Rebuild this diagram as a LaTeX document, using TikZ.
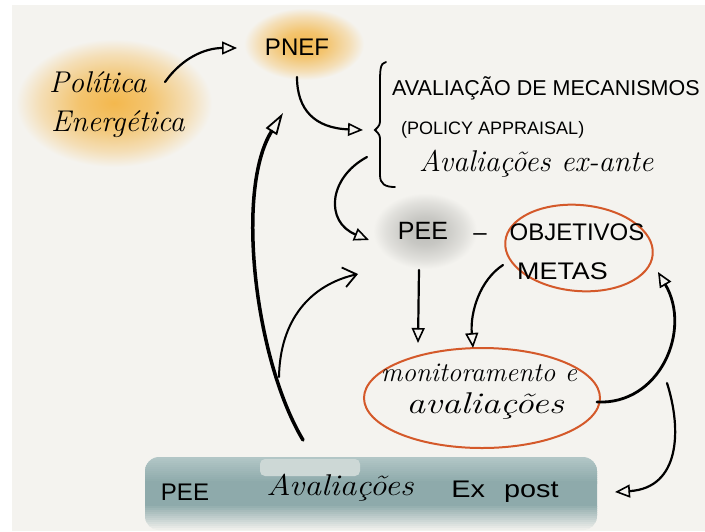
\documentclass[tikz,border=0pt]{standalone}
\usepackage{fontspec}
\setsansfont{Liberation Sans}
\usetikzlibrary{arrows.meta,shapes.geometric}
\definecolor{bgc}{HTML}{F4F3EF}
\definecolor{blobO}{HTML}{F3B84E}
\definecolor{blobG}{HTML}{BCBCB8}
\definecolor{tealD}{HTML}{8EAAAB}
\definecolor{tealL}{HTML}{B2C6C6}
\definecolor{ringO}{HTML}{D4592A}
\colorlet{blobOa}{blobO!80!bgc}
\colorlet{blobOb}{blobO!35!bgc}
\colorlet{blobGa}{blobG!80!bgc}
\colorlet{blobGb}{blobG!35!bgc}
\pgfdeclareradialshading{shO}{\pgfpointorigin}{color(0bp)=(blobO);color(9bp)=(blobOa);color(19bp)=(blobOb);color(25bp)=(bgc);color(50bp)=(bgc)}
\pgfdeclareradialshading{shG}{\pgfpointorigin}{color(0bp)=(blobG);color(9bp)=(blobGa);color(19bp)=(blobGb);color(25bp)=(bgc);color(50bp)=(bgc)}
\tikzset{
  hand/.style={font=\itshape\fontsize{30}{40}\selectfont, inner sep=1pt},
  caps/.style={font=\sffamily\fontsize{18}{22}\selectfont, inner sep=1pt},
  ring/.style={draw=ringO, line width=2pt, ellipse, inner sep=0pt},
  arr/.style={line width=2.2pt, line cap=round, -{Triangle[open,length=15pt,width=13pt,line width=1.6pt]}},
  thickarr/.style={line width=3.5pt, line cap=round, -{Triangle[open,length=22pt,width=13pt,line width=1.8pt]}},
  veearr/.style={line width=2pt, line cap=round, -{Straight Barb[length=13pt,width=20pt,line width=1.8pt]}},
}
\begin{document}
\begin{tikzpicture}[x=1pt,y=-1pt]
\useasboundingbox (0,0) rectangle (705,531);
\fill[white] (0,0) rectangle (705,531);
\fill[bgc] (12,5) rectangle (705,531);
% blobs
\shade[shading=shO] (114,103) ellipse (98 and 64);
\shade[shading=shO] (304,44) ellipse (60 and 36);
\shade[shading=shG] (425,231) ellipse (52 and 38);
\begin{scope}
  \clip[rounded corners=14] (145,457) rectangle (597,530);
  \foreach \i in {0,...,12}{
    \pgfmathtruncatemacro\p{\i*100/12}
    \fill[tealD!\p!tealL] (140,457+2*\i) rectangle (600,459.6+2*\i);
  }
  \fill[tealD] (140,482) rectangle (600,506.5);
  \foreach \i in {0,...,11}{
    \pgfmathtruncatemacro\p{100-(\i+1)*100/13}
    \fill[tealD!\p!bgc] (140,506+2*\i) rectangle (600,508.6+2*\i);
  }
\end{scope}
\fill[tealL!60!bgc, rounded corners=5] (260,459) rectangle (360,476);
\node[minimum width=452, minimum height=70, inner sep=0pt] (expost) at (371,492) {};
% text nodes
\node[hand, anchor=west] (pol) at (48,82) {Política};
\node[hand, anchor=west] (ener) at (50,124) {Energética};
\node[caps, font=\sffamily\fontsize{24}{26}\selectfont] (pnef) at (297,47) {PNEF};
\node[caps, font=\sffamily\fontsize{21.5}{24}\selectfont, anchor=west] (aval1) at (391,88) {AVALIAÇÃO DE MECANISMOS};
\node[caps, anchor=west] (aval2) at (400,130) {(POLICY APPRAISAL)};
\node[hand, anchor=west] (aval3) at (418,164) {Avaliações ex-ante};
\node[caps, font=\sffamily\fontsize{25}{27}\selectfont] (pee) at (423,231) {PEE};
\node[caps, font=\sffamily\fontsize{24}{26}\selectfont] (dash) at (480,237) {–};
\node[ring, minimum width=148, minimum height=86, rotate=-5] (obj) at (579,248) {};
\node[caps, font=\sffamily\fontsize{24}{26}\selectfont] (objt) at (577,232) {OBJETIVOS};
\node[caps, font=\sffamily\fontsize{24}{26}\selectfont, anchor=west] (metas) at (516,271) {\scalebox{1.12}[1]{METAS}};
\node[ring, minimum width=236, minimum height=100] (mon) at (482,398) {};
\node[hand, font=\itshape\fontsize{27}{34}\selectfont] (mont) at (479,373) {monitoramento e};
\node[hand] (avt) at (485,406) {\scalebox{1.25}[1]{avaliações}};
\node[caps, font=\sffamily\fontsize{24}{26}\selectfont] (ex1) at (185,492) {PEE};
\node[hand] (ex2) at (340,488) {\scalebox{1.12}[1]{Avaliações}};
\node[caps, font=\sffamily\fontsize{24}{26}\selectfont] (ex3) at (505,492) {\scalebox{1.2}[1]{Ex\hspace{16pt}post}};
% bracket
\draw[line width=1.8pt, line cap=round] (386,62) .. controls (380,63) and (380,70) .. (380,85) -- (380,118) .. controls (380,125) .. (375,130) .. controls (380,135) .. (380,142) -- (380,175) .. controls (380,184) and (385,187) .. (395,187);
% named connector ends
\coordinate (polout) at (165,82);
\coordinate (pnefin) at (237,48);
\coordinate (pnefout) at (297,77);
\coordinate (brkin) at (363,130);
\coordinate (brkout) at (367,157);
\coordinate (peein) at (369,240);
\coordinate (peedown) at (419,270);
\coordinate (monin1) at (418,343);
\coordinate (metasout) at (503,265);
\coordinate (monin2) at (473,348);
\coordinate (monout) at (597,402);
\coordinate (objin) at (658,272);
\coordinate (monout2) at (667,383);
\coordinate (expin) at (615,492);
\coordinate (expout1) at (303,440);
\coordinate (polin) at (283,113);
\coordinate (expout2) at (279,377);
\coordinate (peein2) at (358,274);
% connectors
\draw[arr] (polout) .. controls (182,58) and (205,48) .. (pnefin);
\draw[arr] (pnefout) .. controls (297,110) and (315,128) .. (brkin);
\draw[arr] (brkout) .. controls (328,178) and (325,222) .. (peein);
\draw[arr] (peedown) -- (monin1);
\draw[arr] (metasout) .. controls (480,280) and (470,312) .. (monin2);
\draw[arr, line width=2.8pt] (monout) .. controls (660,405) and (692,330) .. (objin);
\draw[arr] (monout2) .. controls (682,430) and (680,488) .. (expin);
\draw[thickarr] (expout1) .. controls (255,360) and (235,190) .. (polin);
\draw[veearr] (expout2) .. controls (280,320) and (310,285) .. (peein2);
\end{tikzpicture}
\end{document}
